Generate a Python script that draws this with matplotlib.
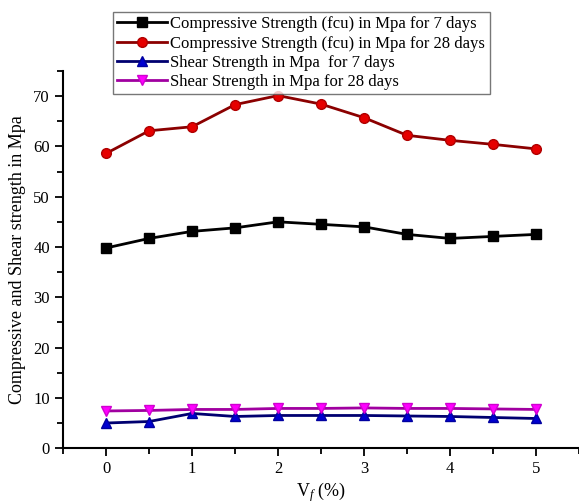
import matplotlib
matplotlib.use("Agg")
import matplotlib.pyplot as plt
from matplotlib.ticker import MultipleLocator

plt.rcParams['font.family'] = ['Liberation Serif', 'DejaVu Serif']
plt.rcParams['mathtext.fontset'] = 'custom'
plt.rcParams['mathtext.rm'] = 'Liberation Serif'
plt.rcParams['mathtext.it'] = 'Liberation Serif:italic'

vf = [0, 0.5, 1, 1.5, 2, 2.5, 3, 3.5, 4, 4.5, 5]
comp_7 = [39.8, 41.7, 43.1, 43.8, 45.0, 44.5, 44.0, 42.5, 41.7, 42.1, 42.5]
comp_28 = [58.6, 63.1, 63.9, 68.3, 70.1, 68.4, 65.7, 62.2, 61.2, 60.4, 59.5]
shear_7 = [5.0, 5.3, 6.9, 6.3, 6.5, 6.5, 6.5, 6.4, 6.3, 6.1, 5.9]
shear_28 = [7.4, 7.5, 7.7, 7.7, 7.9, 7.9, 8.0, 7.9, 7.9, 7.8, 7.7]

labels = ["Compressive Strength (fcu) in Mpa for 7 days",
          "Compressive Strength (fcu) in Mpa for 28 days",
          "Shear Strength in Mpa  for 7 days",
          "Shear Strength in Mpa for 28 days"]

fig = plt.figure(figsize=(5.79, 5.03), dpi=100)
ax = fig.add_axes([0.109, 0.109, 0.891, 0.750])

ax.plot(vf, comp_7, color='black', lw=2, marker='s', ms=6.5,
        mfc='black', mec='black', label=labels[0])
ax.plot(vf, comp_28, color='#8B0000', lw=2, marker='o', ms=7,
        mfc='#E60000', mec='#B00000', label=labels[1])
ax.plot(vf, shear_7, color='#000070', lw=2, marker='^', ms=7.5,
        mfc='#0000D0', mec='#0000A0', label=labels[2])
ax.plot(vf, shear_28, color='#A000A0', lw=2, marker='v', ms=7.5,
        mfc='#FF00FF', mec='#D000D0', label=labels[3])

ax.set_xlim(-0.5, 5.5)
ax.set_ylim(0, 75)
ax.xaxis.set_major_locator(MultipleLocator(1))
ax.xaxis.set_minor_locator(MultipleLocator(0.5))
ax.yaxis.set_major_locator(MultipleLocator(10))
ax.yaxis.set_minor_locator(MultipleLocator(5))
ax.tick_params(which='major', direction='out', length=6, width=1.3, labelsize=12)
ax.tick_params(which='minor', direction='out', length=4, width=1.3)
for s in ['top', 'right']:
    ax.spines[s].set_visible(False)
for s in ['left', 'bottom']:
    ax.spines[s].set_linewidth(1.5)

ax.set_xlabel('V$_{\\mathit{f}}$ (%)', fontsize=13, labelpad=2)
ax.set_ylabel('Compressive and Shear strength in Mpa', fontsize=13, labelpad=5)

leg = fig.legend(loc='upper left', bbox_to_anchor=(113/579, 1-12/503),
                 fontsize=12, frameon=True, fancybox=False, handlelength=3.0,
                 borderpad=0.25, labelspacing=0.2, handletextpad=0.2,
                 borderaxespad=0)
leg.get_frame().set_edgecolor('#555555')
leg.get_frame().set_linewidth(1.0)

fig.savefig('out.png', dpi=100)
